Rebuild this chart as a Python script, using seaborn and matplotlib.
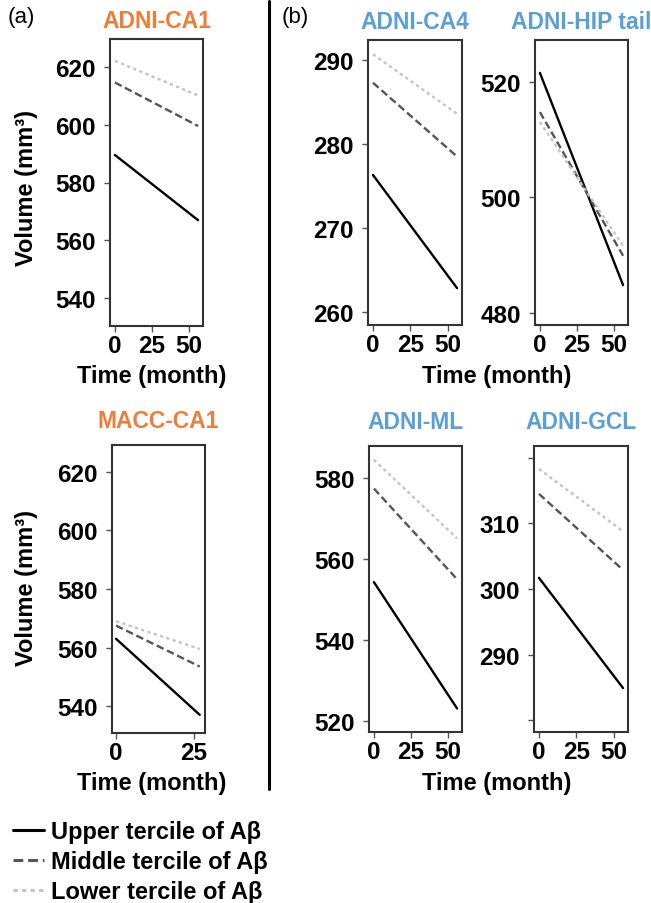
import numpy as np
import pandas as pd
import seaborn as sns
import matplotlib.pyplot as plt
from matplotlib.lines import Line2D

# time points (months) of the fitted trajectories
time_adni = [0, 56]
time_macc = [0, 27]

terciles = ["Upper tercile of Aβ", "Middle tercile of Aβ", "Lower tercile of Aβ"]

# start/end volumes (mm3), upper / middle / lower tercile
ca1_upper = [589.5, 567.0]
ca1_middle = [614.5, 599.5]
ca1_lower = [622.0, 610.0]

macc_upper = [563.0, 537.0]
macc_middle = [567.5, 553.5]
macc_lower = [569.0, 559.5]

ca4_upper = [276.3, 262.8]
ca4_middle = [287.3, 278.5]
ca4_lower = [290.7, 283.6]

hip_upper = [521.6, 484.8]
hip_middle = [514.8, 489.9]
hip_lower = [513.1, 491.6]

ml_upper = [554.3, 523.1]
ml_middle = [577.4, 555.0]
ml_lower = [584.5, 565.1]

gcl_upper = [301.7, 284.9]
gcl_middle = [314.5, 302.9]
gcl_lower = [318.3, 308.8]

titles = ["ADNI-CA1", "MACC-CA1", "ADNI-CA4", "ADNI-HIP tail", "ADNI-ML", "ADNI-GCL"]
orange = "#ef7d37"
blue = "#5a9fd6"

sns.set_style("white")
plt.rcParams['font.family'] = ['Liberation Sans', 'DejaVu Sans']
plt.rcParams['font.weight'] = 'bold'
plt.rcParams['text.color'] = 'black'

FS = 17
W, H = 651, 904
fig = plt.figure(figsize=(W / 100, H / 100), dpi=100)


def px_axes(left, top, right, bottom):
    return fig.add_axes([left / W, 1 - bottom / H, (right - left) / W, (bottom - top) / H])


palette = {terciles[0]: "#000000", terciles[1]: "#555555", terciles[2]: "#c4c4c4"}
dashes = {terciles[0]: "", terciles[1]: (3.2, 1.6), terciles[2]: (1.4, 1.4)}


def panel(box, time, upper, middle, lower, title, color, yticks, ylim, xticks, xlim,
          yticklabels=None, pad=9):
    ax = px_axes(*box)
    df = pd.DataFrame({
        "time": list(time) * 3,
        "volume": upper + middle + lower,
        "group": [t for t in terciles for _ in time],
    })
    sns.lineplot(data=df, x="time", y="volume", hue="group", style="group",
                 palette=palette, dashes=dashes, linewidth=1.7, legend=False, ax=ax)
    ax.set_xlim(*xlim)
    ax.set_ylim(*ylim)
    ax.set_xticks(xticks)
    ax.set_yticks(yticks)
    if yticklabels is not None:
        ax.set_yticklabels(yticklabels)
    ax.set_xlabel("")
    ax.set_ylabel("")
    ax.tick_params(axis="both", direction="out", length=4, width=1, color="#555555",
                   labelcolor="black", labelsize=17.5, bottom=True, left=True)
    ax.tick_params(axis="y", pad=6)
    ax.tick_params(axis="x", pad=2)
    for lab in ax.get_xticklabels() + ax.get_yticklabels():
        lab.set_fontweight("bold")
    for s in ax.spines.values():
        s.set_color("#333333")
        s.set_linewidth(1.5)
    ax.set_title(title, color=color, fontsize=16.5, fontweight="bold", pad=pad)
    return ax


adni_x = ([0, 25, 50], (-3.3, 59.3))
macc_x = ([0, 25], (-1.3, 28.7))

panel((110, 40, 203, 327), time_adni, ca1_upper, ca1_middle, ca1_lower, titles[0], orange,
      [540, 560, 580, 600, 620], (530.5, 629.5), *adni_x)
panel((112, 446, 205, 734), time_macc, macc_upper, macc_middle, macc_lower, titles[1], orange,
      [540, 560, 580, 600, 620], (530.8, 629.2), *macc_x, pad=13)
panel((368, 41, 462, 326), time_adni, ca4_upper, ca4_middle, ca4_lower, titles[2], blue,
      [260, 270, 280, 290], (258.4, 292.4), *adni_x)
panel((535, 41, 628, 326), time_adni, hip_upper, hip_middle, hip_lower, titles[3], blue,
      [480, 500, 520], (477.9, 527.3), *adni_x)
panel((369, 447, 462, 733), time_adni, ml_upper, ml_middle, ml_lower, titles[4], blue,
      [520, 540, 560, 580], (517.3, 587.9), *adni_x, pad=13)
panel((534, 447, 628, 733), time_adni, gcl_upper, gcl_middle, gcl_lower, titles[5], blue,
      [280, 290, 300, 310, 320], (278.2, 321.8), *adni_x,
      yticklabels=["", "290", "300", "310", ""], pad=13)

# shared axis labels
for x, y in [(152, 377), (497, 377), (152, 784), (497, 784)]:
    fig.text(x / W, 1 - y / H, "Time (month)", ha="center", va="center",
             fontsize=FS, fontweight="bold")
for y in [188, 588]:
    fig.text(27 / W, 1 - y / H, "Volume (mm³)", ha="center", va="center",
             rotation=90, fontsize=FS, fontweight="bold")

# panel letters
fig.text(8 / W, 1 - 18 / H, "(a)", ha="left", va="center", fontsize=16, fontweight="normal")
fig.text(282 / W, 1 - 18 / H, "(b)", ha="left", va="center", fontsize=16, fontweight="normal")

# divider between (a) and (b)
fig.add_artist(Line2D([269 / W, 269 / W], [1 - 2 / H, 1 - 790 / H],
                      transform=fig.transFigure, color="black", linewidth=2.2))

# legend
handles = [Line2D([], [], color=palette[t], linewidth=2.2,
                  dashes=dashes[t] if dashes[t] else (None, None)) for t in terciles]
handles[0].set_linestyle("-")
fig.legend(handles, terciles, loc="upper left", bbox_to_anchor=(13 / W, 1 - 821 / H),
           frameon=False, prop={"weight": "bold", "size": 17},
           handlelength=1.3, handletextpad=0.3, labelspacing=0.3, borderaxespad=0.0,
           borderpad=0.0)

fig.savefig("out.png", dpi=100)
